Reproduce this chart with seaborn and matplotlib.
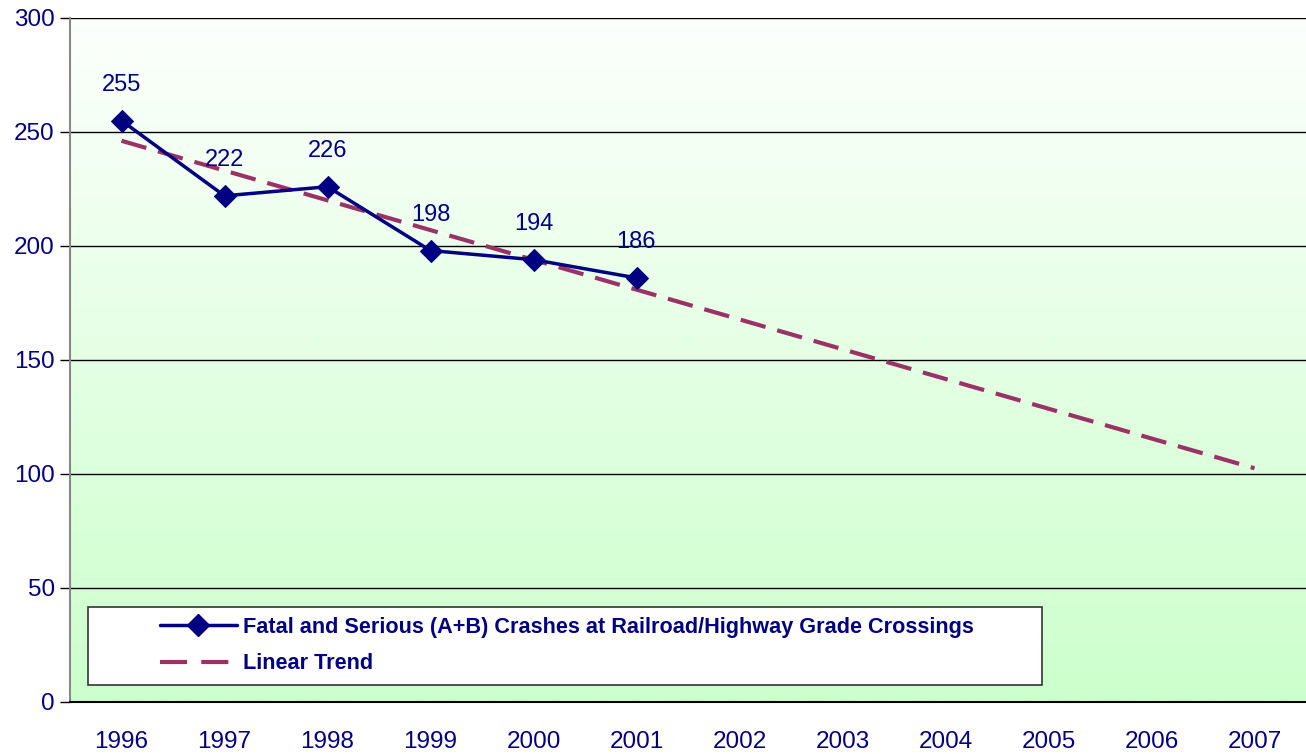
import numpy as np
import pandas as pd
import matplotlib
matplotlib.use("Agg")
import matplotlib.pyplot as plt
import seaborn as sns
from matplotlib.lines import Line2D
from matplotlib.patches import Rectangle
from matplotlib.colors import LinearSegmentedColormap

years = ["1996", "1997", "1998", "1999", "2000", "2001",
         "2002", "2003", "2004", "2005", "2006", "2007"]
crash_years = ["1996", "1997", "1998", "1999", "2000", "2001"]
crashes = [255, 222, 226, 198, 194, 186]
y_ticks = [0, 50, 100, 150, 200, 250, 300]

series_label = "Fatal and Serious (A+B) Crashes at Railroad/Highway Grade Crossings"
trend_label = "Linear Trend"

navy = "#000080"
trend_color = "#993366"
trend_dashes = [6.2, 2.9]
legend_dashes = [6.5, 3.4]

sns.set_theme(style="white")
plt.rcParams["font.family"] = ["Liberation Sans", "DejaVu Sans"]

# least-squares trend fitted to the observed years, extended across all years
obs_x = np.array([years.index(y) for y in crash_years])
slope, intercept = np.polyfit(obs_x, crashes, 1)
all_x = np.arange(len(years))
trend = intercept + slope * all_x

df = pd.DataFrame({"x": obs_x, "crashes": crashes})
tdf = pd.DataFrame({"x": all_x, "trend": trend})

W, H = 1306, 754
fig = plt.figure(figsize=(W / 100, H / 100), dpi=100)
ax = fig.add_axes([70 / W, 52 / H, 1236 / W, 684 / H])

# vertical white-to-green background
cmap = LinearSegmentedColormap.from_list("bg", ["#CCFFCC", "#FFFFFF"])
grad = np.linspace(0, 1, 256).reshape(-1, 1)
ax.imshow(grad, extent=[-0.5, 11.5, 0, 300], origin="lower", aspect="auto",
          cmap=cmap, zorder=0, vmin=0, vmax=1.05)

for v in y_ticks[1:]:
    ax.axhline(v, color="black", lw=1.0, zorder=1)

sns.lineplot(data=tdf, x="x", y="trend", ax=ax, color=trend_color, lw=3,
             zorder=3, legend=False)
ax.lines[-1].set_dashes(trend_dashes)

sns.lineplot(data=df, x="x", y="crashes", ax=ax, color=navy, lw=2.5,
             marker="D", markersize=11.5, markeredgecolor=navy, zorder=4,
             legend=False)

for xi, v in zip(obs_x, crashes):
    ax.annotate(str(v), (xi, v), xytext=(0, 18), textcoords="offset points",
                ha="center", va="bottom", color=navy, fontsize=17, zorder=5)

ax.set_xlim(-0.5, 11.5)
ax.set_ylim(0, 300)
ax.set_yticks(y_ticks)
ax.set_yticklabels([str(v) for v in y_ticks], color=navy, fontsize=17.5)
ax.set_xticks(all_x)
ax.set_xticklabels(years, color=navy, fontsize=17.5)
ax.set_xticks(np.arange(-0.5, 11.6, 1), minor=True)
ax.tick_params(axis="x", which="major", length=0, pad=21)
ax.tick_params(axis="x", which="minor", length=9, width=1, color="#555555",
               direction="inout")
ax.tick_params(axis="y", which="major", length=7, width=1, color="black",
               pad=4, direction="out", left=True)
ax.set_xlabel("")
ax.set_ylabel("")

for side in ["top", "right"]:
    ax.spines[side].set_visible(False)
ax.spines["left"].set_color("#888888")
ax.spines["left"].set_linewidth(1.5)
ax.spines["bottom"].set_color("black")
ax.spines["bottom"].set_linewidth(1.5)

# boxed legend
fig.patches.append(Rectangle((88 / W, 1 - 685 / H), 954 / W, 78 / H,
                             transform=fig.transFigure, facecolor="white",
                             edgecolor="#333333", lw=1.2, zorder=6))
handles = [
    Line2D([], [], color=navy, lw=2.5, marker="D", markersize=11),
    Line2D([], [], color=trend_color, lw=3, dashes=legend_dashes),
]
leg = fig.legend(handles, [series_label, trend_label],
                 loc="center left", bbox_to_anchor=(160 / W, 1 - 645.5 / H),
                 frameon=False, borderpad=0, borderaxespad=0,
                 handlelength=3.55, handletextpad=0.3, labelspacing=0.7,
                 prop={"weight": "bold", "size": 15.6})
leg.set_zorder(7)
for t in leg.get_texts():
    t.set_color(navy)

fig.savefig("out.png", dpi=100)
